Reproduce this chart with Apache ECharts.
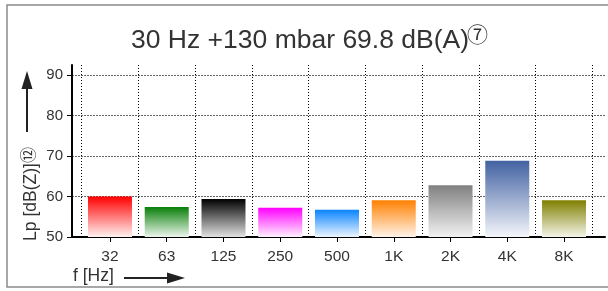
<!DOCTYPE html>
<html>
<head>
<meta charset="utf-8">
<script src="https://cdn.jsdelivr.net/npm/echarts@6/dist/echarts.min.js"></script>
<style>
  html, body { margin: 0; padding: 0; background: #fff; }
  #chart { width: 608px; height: 291px; }
</style>
</head>
<body>
<div id="chart"></div>
<script>
const bands = ["32", "63", "125", "250", "500", "1K", "2K", "4K", "8K"];
const levels = [60.0, 57.4, 59.4, 57.2, 56.7, 59.1, 62.8, 68.8, 59.1];
const yTicks = [50, 60, 70, 80, 90];

// top colour of each bar, fades to near white at the bottom
const topColors = ["#ff0000", "#087f08", "#000000", "#ff00ff", "#0a84ff",
  "#ff8000", "#808080", "#4262a2", "#7f7f00"];
const bottomColors = ["#fff2f2", "#eef6ee", "#e2e2e2", "#fff2ff", "#eef6ff",
  "#fff4ea", "#f2f2f2", "#f4f6fb", "#f5f5ea"];

const font = "Liberation Sans, Arial, sans-serif";
const circFont = "Noto Sans CJK JP, DejaVu Sans, sans-serif";
const textColor = "#333";

const chart = echarts.init(document.getElementById("chart"));

const option = {
  animation: false,
  title: {
    text: "30 Hz +130 mbar 69.8 dB(A)",
    left: 126,
    top: 22,
    textStyle: {
      fontFamily: font,
      fontSize: 26.5,
      fontWeight: "normal",
      color: textColor,
    },
  },
  grid: [
    // full width grid: horizontal grid lines, y labels, x axis line
    { left: 72, right: 3, top: 75, bottom: 54 },
    // inner grid holding the bars
    { left: 81.6, right: 15.6, top: 65, bottom: 54 },
  ],
  xAxis: [
    {
      gridIndex: 0,
      type: "value",
      min: 0,
      max: 1,
      axisLine: { show: true, lineStyle: { color: "#000", width: 2 } },
      axisTick: { show: false },
      axisLabel: { show: false },
      splitLine: { show: false },
    },
    {
      gridIndex: 1,
      type: "category",
      data: bands,
      axisLine: { show: false },
      axisTick: { show: true, alignWithLabel: true, length: 5, lineStyle: { color: "#000" } },
      axisLabel: { fontFamily: font, fontSize: 15.5, color: textColor, margin: 12 },
      splitLine: {
        show: true,
        interval: 0,
        lineStyle: { color: "#000", width: 1, type: [1, 2] },
      },
    },
  ],
  yAxis: [
    {
      gridIndex: 0,
      type: "value",
      min: 50,
      max: 90,
      interval: 10,
      axisLine: { show: false },
      axisTick: { show: true, length: 5, lineStyle: { color: "#000" } },
      axisLabel: {
        fontFamily: font,
        fontSize: 15,
        color: textColor,
        margin: 9,
        formatter: (v) => (yTicks.includes(v) ? String(v) : ""),
      },
      splitLine: { show: true, lineStyle: { color: "#666", width: 1, type: [2, 1] } },
    },
    {
      gridIndex: 1,
      type: "value",
      min: 50,
      max: 92.47,
      offset: 9.6,
      axisLine: { show: true, lineStyle: { color: "#000", width: 2 } },
      axisTick: { show: false },
      axisLabel: { show: false },
      splitLine: { show: false },
    },
  ],
  series: [
    {
      type: "bar",
      xAxisIndex: 1,
      yAxisIndex: 1,
      barWidth: 44,
      z: 3,
      data: levels.map((v, i) => ({
        value: v,
        itemStyle: {
          color: {
            type: "linear", x: 0, y: 0, x2: 0, y2: 1,
            colorStops: [
              { offset: 0, color: topColors[i] },
              { offset: 1, color: bottomColors[i] },
            ],
          },
        },
      })),
    },
  ],
  graphic: [
    {
      type: "rect",
      silent: true,
      z: -1,
      shape: { x: 7, y: 5, width: 700, height: 282 },
      style: { fill: null, stroke: "#8a8a8a", lineWidth: 1.5 },
    },
    // footnote mark after the title
    {
      type: "text",
      silent: true,
      x: 467,
      y: 24,
      style: {
        text: "⑦",
        fontFamily: circFont,
        fontSize: 21,
        fill: textColor,
        align: "left",
        verticalAlign: "top",
      },
    },
    // y axis name with upward arrow
    {
      type: "line",
      silent: true,
      shape: { x1: 27, y1: 132, x2: 27, y2: 86 },
      style: { stroke: "#222", lineWidth: 2 },
    },
    {
      type: "polygon",
      silent: true,
      shape: { points: [[27, 71], [21.5, 89], [32.5, 89]] },
      style: { fill: "#222" },
    },
    {
      type: "text",
      silent: true,
      x: 31,
      y: 202,
      rotation: Math.PI / 2,
      style: {
        text: "Lp [dB(Z)]",
        fontFamily: font,
        fontSize: 17.5,
        fill: textColor,
        align: "center",
        verticalAlign: "middle",
      },
    },
    {
      type: "text",
      silent: true,
      x: 28,
      y: 155,
      rotation: Math.PI / 2,
      style: {
        text: "⑫",
        fontFamily: circFont,
        fontSize: 16,
        fill: textColor,
        align: "center",
        verticalAlign: "middle",
      },
    },
    // x axis name with arrow to the right
    {
      type: "text",
      silent: true,
      x: 73,
      y: 276,
      style: {
        text: "f [Hz]",
        fontFamily: font,
        fontSize: 17.5,
        fill: textColor,
        align: "left",
        verticalAlign: "middle",
      },
    },
    {
      type: "line",
      silent: true,
      shape: { x1: 124, y1: 278, x2: 168, y2: 278 },
      style: { stroke: "#222", lineWidth: 2 },
    },
    {
      type: "polygon",
      silent: true,
      shape: { points: [[185, 278], [167, 272.5], [167, 283.5]] },
      style: { fill: "#222" },
    },
  ],
};

chart.setOption(option);
</script>
</body>
</html>
